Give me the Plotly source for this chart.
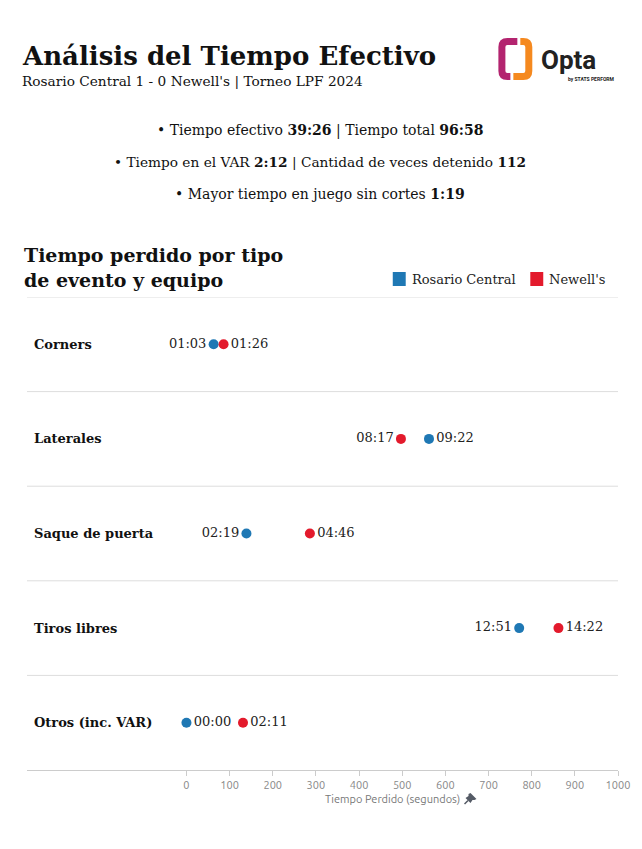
import plotly.graph_objects as go

# data
categorias = ["Corners", "Laterales", "Saque de puerta", "Tiros libres", "Otros (inc. VAR)"]
equipos = ["Rosario Central", "Newell's"]
rosario_seg = [63, 562, 139, 771, 0]
newells_seg = [86, 497, 286, 862, 131]
x_ticks = [0, 100, 200, 300, 400, 500, 600, 700, 800, 900, 1000]

colores = {"Rosario Central": "#1f78b4", "Newell's": "#e31a2c"}
serif = "'DejaVu Serif', Georgia, serif"
sans = "Ubuntu, 'Open Sans', sans-serif"

# the page puts the figure 8px in from the top-left corner
OFF = 8
W, H = 642 - OFF, 849 - OFF
L, R, T, B = 27 - OFF, 642 - 620, 297 - OFF, 849 - 770
plot_h = H - T - B
plot_w = W - L - R


def px(x):
    return (x - OFF - L) / plot_w


def py(y):
    return (H - B - (y - OFF)) / plot_h


def mmss(s):
    return f"{s // 60:02d}:{s % 60:02d}"


def posiciones(vals, otros):
    out = []
    for v, o in zip(vals, otros):
        out.append("middle left" if (v < o and v > 0) else "middle right")
    return out


fig = go.Figure()
filas = list(range(len(categorias)))
for nombre, vals, otros in [
    ("Rosario Central", rosario_seg, newells_seg),
    ("Newell's", newells_seg, rosario_seg),
]:
    fig.add_trace(
        go.Scatter(
            x=vals,
            y=filas,
            mode="markers+text",
            name=nombre,
            marker=dict(color=colores[nombre], size=10),
            text=[mmss(v) for v in vals],
            textposition=posiciones(vals, otros),
            textfont=dict(family=serif, size=13, color="#222"),
            cliponaxis=False,
            hoverinfo="skip",
        )
    )

shapes = []
for i in range(len(categorias)):
    shapes.append(
        dict(type="line", xref="paper", yref="y", x0=0, x1=1, y0=i - 0.5, y1=i - 0.5,
             line=dict(color="#dddddd", width=1))
    )

annotations = []
for i, c in enumerate(categorias):
    annotations.append(
        dict(x=0, y=i, xref="paper", yref="y", xshift=5, xanchor="left", yanchor="middle",
             text=f"<b>{c}</b>", showarrow=False, font=dict(family=serif, size=13, color="#111"))
    )

# axis title, centred on the 0..1000 span
annotations.append(
    dict(x=(x_ticks[0] + x_ticks[-1]) / 2, y=py(799), xref="x", yref="paper", xshift=-10,
         text="Tiempo Perdido (segundos)", showarrow=False, xanchor="center", yanchor="middle",
         font=dict(family=sans, size=11, color="#777"))
)
n_fijas = len(annotations)

# header
annotations += [
    dict(x=px(20), y=py(56), text="<b>Análisis del Tiempo Efectivo</b>", xanchor="left",
         font=dict(family=serif, size=26, color="#111")),
    dict(x=px(20), y=py(81), text="Rosario Central 1 - 0 Newell's | Torneo LPF 2024", xanchor="left",
         font=dict(family=serif, size=13.7, color="#111")),
    dict(x=px(321), y=py(130), text="• Tiempo efectivo <b>39:26</b> | Tiempo total <b>96:58</b>",
         xanchor="center", font=dict(family=serif, size=14, color="#111")),
    dict(x=px(321), y=py(162), text="• Tiempo en el VAR <b>2:12</b> | Cantidad de veces detenido <b>112</b>",
         xanchor="center", font=dict(family=serif, size=13.7, color="#111")),
    dict(x=px(321), y=py(194), text="• Mayor tiempo en juego sin cortes <b>1:19</b>",
         xanchor="center", font=dict(family=serif, size=14, color="#111")),
    dict(x=px(22), y=py(267), text="<b>Tiempo perdido por tipo<br>de evento y equipo</b>", xanchor="left",
         align="left", font=dict(family=serif, size=19, color="#111")),
    dict(x=px(411), y=py(279), text="Rosario Central", xanchor="left",
         font=dict(family=serif, size=13, color="#222")),
    dict(x=px(549), y=py(279), text="Newell's", xanchor="left",
         font=dict(family=serif, size=13, color="#222")),
    # logo text
    dict(x=px(541), y=py(60), text="<b>Opta</b>", xanchor="left",
         font=dict(family="Roboto, sans-serif", size=26, color="#222")),
    dict(x=px(568), y=py(79), text="<b>by STATS PERFORM</b>", xanchor="left",
         font=dict(family="Roboto, sans-serif", size=5, color="#222")),
]
for a in annotations[n_fijas:]:
    a.update(xref="paper", yref="paper", showarrow=False, yanchor="middle")

# legend squares
for nombre, x0 in [("Rosario Central", 394), ("Newell's", 532)]:
    shapes.append(dict(type="rect", xref="paper", yref="paper", x0=px(x0), x1=px(x0 + 13),
                       y0=py(286), y1=py(272), fillcolor=colores[nombre], line=dict(width=0)))


def P(x, y):
    return f"{px(x):.5f},{py(y):.5f}"


# logo mark (two brackets)
shapes.append(dict(type="path", xref="paper", yref="paper",
                   path=f"M{P(519,41.5)} L{P(509,41.5)} Q{P(503.5,41.5)} {P(503.5,47)} L{P(503.5,71)} "
                        f"Q{P(503.5,76.5)} {P(509,76.5)} L{P(512,76.5)}",
                   line=dict(color="#b3246f", width=7)))
shapes.append(dict(type="path", xref="paper", yref="paper",
                   path=f"M{P(515,76.5)} L{P(525,76.5)} Q{P(530.5,76.5)} {P(530.5,71)} L{P(530.5,47)} "
                        f"Q{P(530.5,41.5)} {P(525,41.5)} L{P(522,41.5)}",
                   line=dict(color="#f5891f", width=7)))

# little pushpin after the axis title
shapes.append(dict(type="path", xref="paper", yref="paper",
                   path=f"M{P(472,793)} L{P(478,799)} L{P(476,800)} L{P(474,800)} L{P(472,803)} "
                        f"L{P(467,798)} L{P(470,796)} L{P(470,794)} Z",
                   fillcolor="#555b66", line=dict(width=0)))
shapes.append(dict(type="line", xref="paper", yref="paper", x0=px(469.5), y0=py(800.5),
                   x1=px(466), y1=py(804), line=dict(color="#555b66", width=1.5)))

fig.update_layout(
    width=W,
    height=H,
    margin=dict(l=L, r=R, t=T, b=B),
    paper_bgcolor="white",
    plot_bgcolor="white",
    showlegend=False,
    shapes=shapes,
    annotations=annotations,
    xaxis=dict(
        range=[-369.5, 1000],
        tickvals=x_ticks,
        showgrid=False,
        zeroline=False,
        showline=True,
        linecolor="#cccccc",
        ticks="outside",
        ticklen=5,
        tickcolor="#cccccc",
        tickfont=dict(family=sans, size=11, color="#888"),
    ),
    yaxis=dict(
        range=[len(categorias) - 0.5, -0.5],
        showticklabels=False,
        showgrid=False,
        zeroline=False,
        ticks="",
    ),
)

fig.write_html("out.html")
